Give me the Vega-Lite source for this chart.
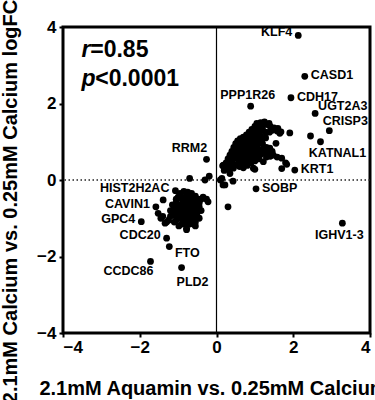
{
  "$schema": "https://vega.github.io/schema/vega-lite/v6.json",
  "width": 307,
  "height": 306,
  "autosize": "none",
  "padding": {"left": 63, "top": 27, "right": 5, "bottom": 67},
  "background": "white",
  "config": {
    "view": {"stroke": "black", "strokeWidth": 3},
    "font": "Liberation Sans",
    "axis": {
      "grid": false, "domain": false, "ticks": true, "tickColor": "black", "tickWidth": 2, "tickSize": 4,
      "labelFont": "Liberation Sans", "labelFontSize": 17, "labelFontWeight": "bold", "labelColor": "black",
      "titleFont": "Liberation Sans", "titleFontSize": 20, "titleFontWeight": "bold", "titleColor": "black"
    }
  },
  "datasets": {
    "genes": [
      {"gene": "KLF4", "x": 2.13, "y": 3.78},
      {"gene": "CASD1", "x": 2.30, "y": 2.71},
      {"gene": "CDH17", "x": 1.94, "y": 2.15},
      {"gene": "PPP1R26", "x": 0.89, "y": 1.93},
      {"gene": "UGT2A3", "x": 2.57, "y": 1.74},
      {"gene": "CRISP3", "x": 2.94, "y": 1.29},
      {"gene": "KATNAL1", "x": 2.71, "y": 1.00},
      {"gene": "KRT1", "x": 2.04, "y": 0.26},
      {"gene": "SOBP", "x": 1.03, "y": -0.23},
      {"gene": "IGHV1-3", "x": 3.28, "y": -1.13},
      {"gene": "RRM2", "x": -0.26, "y": 0.54},
      {"gene": "HIST2H2AC", "x": -1.07, "y": -0.28},
      {"gene": "CAVIN1", "x": -1.58, "y": -0.70},
      {"gene": "GPC4", "x": -1.96, "y": -1.09},
      {"gene": "CDC20", "x": -1.30, "y": -1.52},
      {"gene": "FTO", "x": -1.23, "y": -1.74},
      {"gene": "CCDC86", "x": -1.72, "y": -2.13},
      {"gene": "PLD2", "x": -0.91, "y": -2.29},
      {"gene": "", "x": 2.45, "y": 1.15},
      {"gene": "", "x": 1.91, "y": 1.23},
      {"gene": "", "x": 1.68, "y": 1.26},
      {"gene": "", "x": 1.55, "y": 0.96},
      {"gene": "", "x": 1.37, "y": 1.48},
      {"gene": "", "x": 1.60, "y": 1.35},
      {"gene": "", "x": 1.80, "y": 0.45},
      {"gene": "", "x": 1.70, "y": 0.30},
      {"gene": "", "x": 1.00, "y": 0.28},
      {"gene": "", "x": 0.25, "y": 0.45},
      {"gene": "", "x": 0.30, "y": 0.55},
      {"gene": "", "x": 0.35, "y": 0.65},
      {"gene": "", "x": 0.40, "y": 0.75},
      {"gene": "", "x": 0.45, "y": 0.85},
      {"gene": "", "x": 0.50, "y": 0.95},
      {"gene": "", "x": 0.55, "y": 1.02},
      {"gene": "", "x": 0.62, "y": 1.08},
      {"gene": "", "x": 0.70, "y": 1.12},
      {"gene": "", "x": 0.78, "y": 1.18},
      {"gene": "", "x": 0.85, "y": 1.25},
      {"gene": "", "x": 0.92, "y": 1.32},
      {"gene": "", "x": 1.00, "y": 1.40},
      {"gene": "", "x": 1.05, "y": 1.48},
      {"gene": "", "x": 1.15, "y": 1.50},
      {"gene": "", "x": 1.25, "y": 1.52},
      {"gene": "", "x": 1.32, "y": 1.45},
      {"gene": "", "x": 1.40, "y": 1.40},
      {"gene": "", "x": 1.50, "y": 1.36},
      {"gene": "", "x": 1.58, "y": 1.28},
      {"gene": "", "x": 1.65, "y": 1.22},
      {"gene": "", "x": 1.10, "y": 1.38},
      {"gene": "", "x": 1.20, "y": 1.32},
      {"gene": "", "x": 1.28, "y": 1.25},
      {"gene": "", "x": 1.00, "y": 1.25},
      {"gene": "", "x": 0.95, "y": 1.15},
      {"gene": "", "x": 1.05, "y": 1.10},
      {"gene": "", "x": 1.15, "y": 1.15},
      {"gene": "", "x": 0.85, "y": 1.05},
      {"gene": "", "x": 0.75, "y": 1.00},
      {"gene": "", "x": 0.65, "y": 0.95},
      {"gene": "", "x": 0.55, "y": 0.85},
      {"gene": "", "x": 0.50, "y": 0.70},
      {"gene": "", "x": 0.45, "y": 0.60},
      {"gene": "", "x": 0.40, "y": 0.50},
      {"gene": "", "x": 0.35, "y": 0.42},
      {"gene": "", "x": 0.60, "y": 0.75},
      {"gene": "", "x": 0.70, "y": 0.85},
      {"gene": "", "x": 0.80, "y": 0.92},
      {"gene": "", "x": 0.90, "y": 1.00},
      {"gene": "", "x": 1.00, "y": 1.05},
      {"gene": "", "x": 1.10, "y": 1.00},
      {"gene": "", "x": 1.20, "y": 0.95},
      {"gene": "", "x": 0.65, "y": 0.62},
      {"gene": "", "x": 0.75, "y": 0.70},
      {"gene": "", "x": 0.85, "y": 0.78},
      {"gene": "", "x": 0.95, "y": 0.85},
      {"gene": "", "x": 1.05, "y": 0.90},
      {"gene": "", "x": 0.55, "y": 0.55},
      {"gene": "", "x": 0.62, "y": 0.48},
      {"gene": "", "x": 0.72, "y": 0.55},
      {"gene": "", "x": 0.82, "y": 0.62},
      {"gene": "", "x": 0.92, "y": 0.70},
      {"gene": "", "x": 1.02, "y": 0.75},
      {"gene": "", "x": 1.12, "y": 0.80},
      {"gene": "", "x": 1.22, "y": 0.78},
      {"gene": "", "x": 1.30, "y": 0.85},
      {"gene": "", "x": 1.39, "y": 0.83},
      {"gene": "", "x": 0.50, "y": 0.40},
      {"gene": "", "x": 0.60, "y": 0.35},
      {"gene": "", "x": 0.70, "y": 0.32},
      {"gene": "", "x": 0.80, "y": 0.38},
      {"gene": "", "x": 0.90, "y": 0.45},
      {"gene": "", "x": 1.00, "y": 0.50},
      {"gene": "", "x": 0.96, "y": 0.31},
      {"gene": "", "x": 1.10, "y": 0.55},
      {"gene": "", "x": 1.22, "y": 0.48},
      {"gene": "", "x": 1.30, "y": 0.60},
      {"gene": "", "x": 1.40, "y": 0.62},
      {"gene": "", "x": 1.48, "y": 0.65},
      {"gene": "", "x": 1.58, "y": 0.60},
      {"gene": "", "x": 1.70, "y": 0.57},
      {"gene": "", "x": 1.83, "y": 0.41},
      {"gene": "", "x": 0.44, "y": 0.31},
      {"gene": "", "x": 0.30, "y": 0.30},
      {"gene": "", "x": 0.20, "y": 0.25},
      {"gene": "", "x": 0.18, "y": 0.39},
      {"gene": "", "x": 1.13, "y": 0.65},
      {"gene": "", "x": 1.25, "y": 0.70},
      {"gene": "", "x": 0.68, "y": 0.68},
      {"gene": "", "x": 0.78, "y": 0.50},
      {"gene": "", "x": 0.88, "y": 0.58},
      {"gene": "", "x": 0.58, "y": 0.92},
      {"gene": "", "x": 0.48, "y": 0.78},
      {"gene": "", "x": 0.38, "y": 0.58},
      {"gene": "", "x": 0.45, "y": 0.70},
      {"gene": "", "x": 0.55, "y": 0.65},
      {"gene": "", "x": 0.65, "y": 0.78},
      {"gene": "", "x": 0.75, "y": 0.85},
      {"gene": "", "x": 0.85, "y": 0.92},
      {"gene": "", "x": 0.95, "y": 0.98},
      {"gene": "", "x": 0.60, "y": 0.85},
      {"gene": "", "x": 0.70, "y": 0.95},
      {"gene": "", "x": 0.80, "y": 1.05},
      {"gene": "", "x": 0.90, "y": 1.12},
      {"gene": "", "x": 1.00, "y": 1.18},
      {"gene": "", "x": 1.10, "y": 1.25},
      {"gene": "", "x": 1.20, "y": 1.42},
      {"gene": "", "x": 0.32, "y": 0.48},
      {"gene": "", "x": 0.42, "y": 0.68},
      {"gene": "", "x": 0.52, "y": 0.62},
      {"gene": "", "x": 0.62, "y": 0.58},
      {"gene": "", "x": 0.72, "y": 0.62},
      {"gene": "", "x": 0.82, "y": 0.70},
      {"gene": "", "x": 0.92, "y": 0.78},
      {"gene": "", "x": 1.02, "y": 0.82},
      {"gene": "", "x": 0.75, "y": 0.42},
      {"gene": "", "x": 0.85, "y": 0.50},
      {"gene": "", "x": 0.95, "y": 0.60},
      {"gene": "", "x": 1.05, "y": 0.65},
      {"gene": "", "x": 1.15, "y": 0.70},
      {"gene": "", "x": 1.35, "y": 0.72},
      {"gene": "", "x": 1.45, "y": 0.75},
      {"gene": "", "x": 1.18, "y": 1.05},
      {"gene": "", "x": 1.28, "y": 1.10},
      {"gene": "", "x": 1.38, "y": 1.25},
      {"gene": "", "x": 1.45, "y": 1.30},
      {"gene": "", "x": 0.10, "y": 0.00},
      {"gene": "", "x": 0.17, "y": -0.13},
      {"gene": "", "x": 0.43, "y": -0.03},
      {"gene": "", "x": 0.30, "y": -0.70},
      {"gene": "", "x": 0.35, "y": 0.17},
      {"gene": "", "x": 0.16, "y": 0.37},
      {"gene": "", "x": 0.22, "y": -0.13},
      {"gene": "", "x": 0.14, "y": 0.04},
      {"gene": "", "x": -0.70, "y": 0.04},
      {"gene": "", "x": -0.30, "y": 0.00},
      {"gene": "", "x": -0.19, "y": 0.10},
      {"gene": "", "x": -0.95, "y": -0.35},
      {"gene": "", "x": -0.85, "y": -0.30},
      {"gene": "", "x": -0.75, "y": -0.32},
      {"gene": "", "x": -0.65, "y": -0.35},
      {"gene": "", "x": -0.55, "y": -0.42},
      {"gene": "", "x": -0.50, "y": -0.55},
      {"gene": "", "x": -0.45, "y": -0.60},
      {"gene": "", "x": -0.40, "y": -0.50},
      {"gene": "", "x": -0.35, "y": -0.45},
      {"gene": "", "x": -0.22, "y": -0.57},
      {"gene": "", "x": -0.26, "y": -0.50},
      {"gene": "", "x": -1.00, "y": -0.45},
      {"gene": "", "x": -0.90, "y": -0.50},
      {"gene": "", "x": -0.80, "y": -0.45},
      {"gene": "", "x": -0.70, "y": -0.50},
      {"gene": "", "x": -0.60, "y": -0.55},
      {"gene": "", "x": -1.05, "y": -0.60},
      {"gene": "", "x": -0.95, "y": -0.65},
      {"gene": "", "x": -0.85, "y": -0.70},
      {"gene": "", "x": -0.75, "y": -0.65},
      {"gene": "", "x": -0.65, "y": -0.70},
      {"gene": "", "x": -0.55, "y": -0.75},
      {"gene": "", "x": -1.10, "y": -0.75},
      {"gene": "", "x": -1.00, "y": -0.80},
      {"gene": "", "x": -0.90, "y": -0.85},
      {"gene": "", "x": -0.80, "y": -0.90},
      {"gene": "", "x": -0.70, "y": -0.85},
      {"gene": "", "x": -0.60, "y": -0.90},
      {"gene": "", "x": -0.50, "y": -0.85},
      {"gene": "", "x": -1.15, "y": -0.90},
      {"gene": "", "x": -1.05, "y": -0.95},
      {"gene": "", "x": -0.95, "y": -1.00},
      {"gene": "", "x": -0.85, "y": -1.05},
      {"gene": "", "x": -0.75, "y": -1.00},
      {"gene": "", "x": -0.65, "y": -1.05},
      {"gene": "", "x": -0.55, "y": -1.10},
      {"gene": "", "x": -1.20, "y": -0.95},
      {"gene": "", "x": -1.25, "y": -1.05},
      {"gene": "", "x": -1.10, "y": -1.10},
      {"gene": "", "x": -0.90, "y": -1.15},
      {"gene": "", "x": -0.78, "y": -1.26},
      {"gene": "", "x": -0.60, "y": -1.15},
      {"gene": "", "x": -0.45, "y": -1.00},
      {"gene": "", "x": -0.40, "y": -0.80},
      {"gene": "", "x": -0.45, "y": -0.70},
      {"gene": "", "x": -0.70, "y": -0.60},
      {"gene": "", "x": -0.80, "y": -0.62},
      {"gene": "", "x": -0.88, "y": -0.78},
      {"gene": "", "x": -0.72, "y": -0.75},
      {"gene": "", "x": -0.62, "y": -0.62},
      {"gene": "", "x": -0.50, "y": -0.68},
      {"gene": "", "x": -0.95, "y": -0.40},
      {"gene": "", "x": -0.85, "y": -0.55},
      {"gene": "", "x": -0.75, "y": -0.55},
      {"gene": "", "x": -0.65, "y": -0.60},
      {"gene": "", "x": -0.55, "y": -0.62},
      {"gene": "", "x": -0.98, "y": -0.72},
      {"gene": "", "x": -0.88, "y": -0.62},
      {"gene": "", "x": -0.80, "y": -0.78},
      {"gene": "", "x": -0.70, "y": -0.95},
      {"gene": "", "x": -0.60, "y": -0.98},
      {"gene": "", "x": -1.00, "y": -0.88},
      {"gene": "", "x": -0.90, "y": -0.95},
      {"gene": "", "x": -0.80, "y": -1.10},
      {"gene": "", "x": -0.70, "y": -1.15},
      {"gene": "", "x": -1.05, "y": -1.05},
      {"gene": "", "x": -0.65, "y": -0.80},
      {"gene": "", "x": -0.55, "y": -0.95},
      {"gene": "", "x": -1.15, "y": -0.65},
      {"gene": "", "x": -1.20, "y": -0.80},
      {"gene": "", "x": -0.48, "y": -0.50},
      {"gene": "", "x": -0.58, "y": -0.48},
      {"gene": "", "x": -0.68, "y": -0.42},
      {"gene": "", "x": -0.78, "y": -0.38},
      {"gene": "", "x": -1.05, "y": -0.50},
      {"gene": "", "x": -1.39, "y": -0.52},
      {"gene": "", "x": -1.52, "y": -0.87},
      {"gene": "", "x": -1.45, "y": -1.00},
      {"gene": "", "x": -1.34, "y": -1.13},
      {"gene": "", "x": -1.30, "y": -1.10},
      {"gene": "", "x": -1.40, "y": -0.95},
      {"gene": "", "x": -0.78, "y": -1.30},
      {"gene": "", "x": -0.55, "y": -1.20},
      {"gene": "", "x": -0.98, "y": -1.20}
    ],
    "annot": [
      {"txt": "r", "x": -3.52, "y": 3.22},
      {"txt": "=0.85", "x": -3.29, "y": 3.22},
      {"txt": "p", "x": -3.52, "y": 2.45},
      {"txt": "<0.0001", "x": -3.16, "y": 2.45}
    ]
  },
  "layer": [
    {
      "data": {"values": [{"x": 0}]},
      "mark": {"type": "rule", "color": "black", "strokeWidth": 1.2},
      "encoding": {"x": {"field": "x", "type": "quantitative", "scale": {"domain": [-4, 4]}}}
    },
    {
      "data": {"values": [{"y": 0}]},
      "mark": {"type": "rule", "color": "#222", "strokeWidth": 1.3, "strokeDash": [1.5, 2.5]},
      "encoding": {"y": {"field": "y", "type": "quantitative", "scale": {"domain": [-4, 4]}}}
    },
    {
      "data": {"name": "genes"},
      "mark": {"type": "circle", "color": "black", "opacity": 1, "size": 46},
      "encoding": {
        "x": {"field": "x", "type": "quantitative", "scale": {"domain": [-4, 4], "nice": false},
          "axis": {"values": [-4, -2, 0, 2, 4], "title": "2.1mM Aquamin vs. 0.25mM Calcium", "labelPadding": 2, "titleX": 150, "titleY": 55, "titleBaseline": "middle", "titleAlign": "center"}},
        "y": {"field": "y", "type": "quantitative", "scale": {"domain": [-4, 4], "nice": false},
          "axis": {"values": [-4, -2, 0, 2, 4], "title": "2.1mM Calcium vs. 0.25mM Calcium logFC", "labelPadding": 3, "titleAngle": 270, "titleX": -53, "titleY": 174, "titleBaseline": "middle", "titleAlign": "center"}}
      }
    },
    {
      "data": {"name": "genes"},
      "transform": [{"filter": {"field": "gene", "oneOf": ["KLF4", "HIST2H2AC", "CAVIN1", "GPC4", "CDC20"]}}],
      "mark": {"type": "text", "align": "right", "baseline": "middle", "dx": -6, "dy": -3, "fontSize": 12.5, "fontWeight": "bold", "color": "black"},
      "encoding": {"x": {"field": "x", "type": "quantitative"}, "y": {"field": "y", "type": "quantitative"}, "text": {"field": "gene"}}
    },
    {
      "data": {"name": "genes"},
      "transform": [{"filter": {"field": "gene", "oneOf": ["CASD1", "CDH17", "KRT1", "SOBP"]}}],
      "mark": {"type": "text", "align": "left", "baseline": "middle", "dx": 6, "dy": -1, "fontSize": 12.5, "fontWeight": "bold", "color": "black"},
      "encoding": {"x": {"field": "x", "type": "quantitative"}, "y": {"field": "y", "type": "quantitative"}, "text": {"field": "gene"}}
    },
    {
      "data": {"name": "genes"},
      "transform": [{"filter": {"field": "gene", "equal": "UGT2A3"}}],
      "mark": {"type": "text", "align": "left", "baseline": "middle", "dx": 3, "dy": -7, "fontSize": 12.5, "fontWeight": "bold", "color": "black"},
      "encoding": {"x": {"field": "x", "type": "quantitative"}, "y": {"field": "y", "type": "quantitative"}, "text": {"field": "gene"}}
    },
    {
      "data": {"name": "genes"},
      "transform": [{"filter": {"field": "gene", "equal": "PPP1R26"}}],
      "mark": {"type": "text", "align": "center", "baseline": "middle", "dx": -3, "dy": -11, "fontSize": 12.5, "fontWeight": "bold", "color": "black"},
      "encoding": {"x": {"field": "x", "type": "quantitative"}, "y": {"field": "y", "type": "quantitative"}, "text": {"field": "gene"}}
    },
    {
      "data": {"name": "genes"},
      "transform": [{"filter": {"field": "gene", "equal": "RRM2"}}],
      "mark": {"type": "text", "align": "center", "baseline": "middle", "dx": -17, "dy": -11, "fontSize": 12.5, "fontWeight": "bold", "color": "black"},
      "encoding": {"x": {"field": "x", "type": "quantitative"}, "y": {"field": "y", "type": "quantitative"}, "text": {"field": "gene"}}
    },
    {
      "data": {"name": "genes"},
      "transform": [{"filter": {"field": "gene", "equal": "CRISP3"}}],
      "mark": {"type": "text", "align": "center", "baseline": "middle", "dx": 16, "dy": -10, "fontSize": 12.5, "fontWeight": "bold", "color": "black"},
      "encoding": {"x": {"field": "x", "type": "quantitative"}, "y": {"field": "y", "type": "quantitative"}, "text": {"field": "gene"}}
    },
    {
      "data": {"name": "genes"},
      "transform": [{"filter": {"field": "gene", "equal": "KATNAL1"}}],
      "mark": {"type": "text", "align": "center", "baseline": "middle", "dx": 17, "dy": 11, "fontSize": 12.5, "fontWeight": "bold", "color": "black"},
      "encoding": {"x": {"field": "x", "type": "quantitative"}, "y": {"field": "y", "type": "quantitative"}, "text": {"field": "gene"}}
    },
    {
      "data": {"name": "genes"},
      "transform": [{"filter": {"field": "gene", "equal": "IGHV1-3"}}],
      "mark": {"type": "text", "align": "center", "baseline": "middle", "dx": -3, "dy": 12, "fontSize": 12.5, "fontWeight": "bold", "color": "black"},
      "encoding": {"x": {"field": "x", "type": "quantitative"}, "y": {"field": "y", "type": "quantitative"}, "text": {"field": "gene"}}
    },
    {
      "data": {"name": "genes"},
      "transform": [{"filter": {"field": "gene", "equal": "FTO"}}],
      "mark": {"type": "text", "align": "center", "baseline": "middle", "dx": 18, "dy": 6, "fontSize": 12.5, "fontWeight": "bold", "color": "black"},
      "encoding": {"x": {"field": "x", "type": "quantitative"}, "y": {"field": "y", "type": "quantitative"}, "text": {"field": "gene"}}
    },
    {
      "data": {"name": "genes"},
      "transform": [{"filter": {"field": "gene", "equal": "CCDC86"}}],
      "mark": {"type": "text", "align": "center", "baseline": "middle", "dx": -22, "dy": 10, "fontSize": 12.5, "fontWeight": "bold", "color": "black"},
      "encoding": {"x": {"field": "x", "type": "quantitative"}, "y": {"field": "y", "type": "quantitative"}, "text": {"field": "gene"}}
    },
    {
      "data": {"name": "genes"},
      "transform": [{"filter": {"field": "gene", "equal": "PLD2"}}],
      "mark": {"type": "text", "align": "center", "baseline": "middle", "dx": 11, "dy": 14, "fontSize": 12.5, "fontWeight": "bold", "color": "black"},
      "encoding": {"x": {"field": "x", "type": "quantitative"}, "y": {"field": "y", "type": "quantitative"}, "text": {"field": "gene"}}
    },
    {
      "data": {"name": "annot"},
      "transform": [{"filter": {"field": "txt", "oneOf": ["r", "p"]}}],
      "mark": {"type": "text", "align": "left", "baseline": "alphabetic", "fontSize": 23, "fontWeight": "bold", "fontStyle": "italic", "color": "black"},
      "encoding": {"x": {"field": "x", "type": "quantitative"}, "y": {"field": "y", "type": "quantitative"}, "text": {"field": "txt"}}
    },
    {
      "data": {"name": "annot"},
      "transform": [{"filter": {"field": "txt", "oneOf": ["=0.85", "<0.0001"]}}],
      "mark": {"type": "text", "align": "left", "baseline": "alphabetic", "fontSize": 23, "fontWeight": "bold", "color": "black"},
      "encoding": {"x": {"field": "x", "type": "quantitative"}, "y": {"field": "y", "type": "quantitative"}, "text": {"field": "txt"}}
    }
  ]
}
